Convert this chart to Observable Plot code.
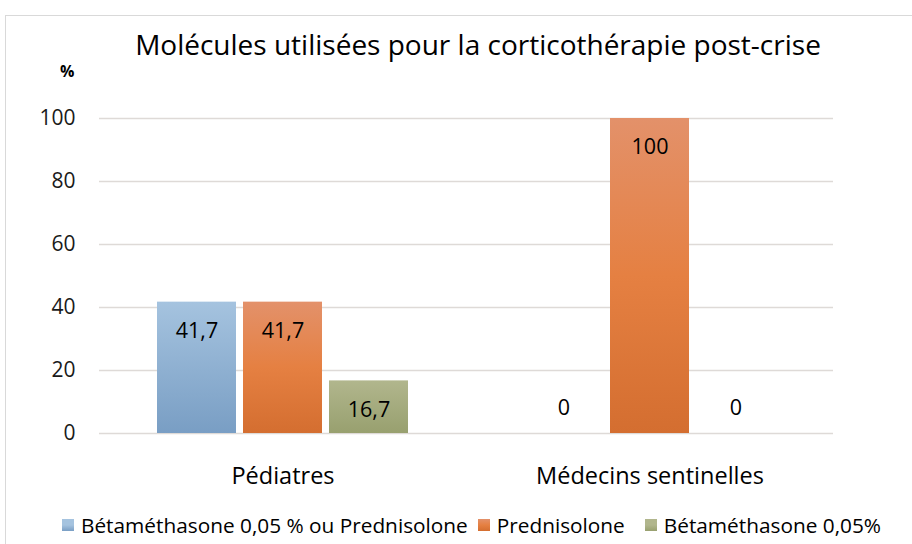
<!DOCTYPE html>
<html>
<head>
<meta charset="utf-8">
<script src="https://cdn.jsdelivr.net/npm/d3@7"></script>
<script src="https://cdn.jsdelivr.net/npm/@observablehq/plot@0.6"></script>
<style>
  html, body { margin: 0; padding: 0; background: #fff; }
  body { width: 912px; height: 544px; position: relative; overflow: hidden; font-family: "Open Sans", "Noto Sans", sans-serif; }
  #frame { position: absolute; left: 5px; top: 15px; width: 930px; height: 560px; border: 1px solid #d9d9d9; box-sizing: border-box; }
  #title { position: absolute; left: 0; width: 956px; top: 25px; text-align: center; font-size: 28px; color: #000; white-space: nowrap; }
  #unit { position: absolute; left: 60px; top: 60px; font-size: 16px; font-weight: bold; color: #000; }
  #chart { position: absolute; left: 0; top: 0; }
  #legend { position: absolute; left: 62px; top: 511px; display: flex; align-items: center; font-size: 20.8px; color: #000; white-space: nowrap; }
  .item { display: flex; align-items: center; margin-right: 10px; }
  .sw { width: 12px; height: 12px; margin-right: 7px; }
</style>
</head>
<body>
<div id="frame"></div>
<div id="title">Molécules utilisées pour la corticothérapie post-crise</div>
<div id="unit">%</div>
<div id="chart"></div>
<div id="legend"></div>
<script>
const groups = ["Pédiatres", "Médecins sentinelles"];
const series = ["Bétaméthasone 0,05 % ou Prednisolone", "Prednisolone", "Bétaméthasone 0,05%"];
const valuesPediatres = [41.7, 41.7, 16.7];
const valuesMedecins = [0, 100, 0];
const yTicks = [0, 20, 40, 60, 80, 100];

const gradients = [
  {id: "gBlue", top: "#a5c3df", bottom: "#799ec4"},
  {id: "gOrange", top: "#e3916a", mid: "#e58042", bottom: "#d46e30"},
  {id: "gGreen", top: "#b1b68d", bottom: "#98a06f"}
];

const data = [];
[valuesPediatres, valuesMedecins].forEach((vals, gi) => {
  vals.forEach((v, si) => data.push({group: groups[gi], series: series[si], value: v}));
});
const fmt = v => String(v).replace(".", ",");

const plot = Plot.plot({
  width: 912,
  height: 500,
  marginLeft: 99,
  marginRight: 79,
  marginTop: 118,
  marginBottom: 67,
  style: {fontFamily: "'Open Sans', 'Noto Sans', sans-serif", fontSize: "19px", color: "#000", background: "transparent", overflow: "visible"},
  fx: {domain: groups, padding: 0, label: null, axis: null},
  x: {domain: series, paddingInner: 0.08, paddingOuter: 0.65, axis: null},
  y: {domain: [0, 100], label: null, axis: null},
  color: {domain: series, range: gradients.map(g => `url(#${g.id})`)},
  marks: [
    Plot.ruleY(yTicks, {stroke: "#dedad7", strokeWidth: 1.5}),
    Plot.barY(data, {fx: "group", x: "series", y: "value", fill: "series"}),
    Plot.text(data.filter(d => d.value > 0), {fx: "group", x: "series", y: "value", text: d => fmt(d.value), dy: 29, fontSize: 21.5, fill: "#000"}),
    Plot.text(data.filter(d => d.value === 0), {fx: "group", x: "series", y: "value", text: d => fmt(d.value), dy: -25, fontSize: 21.5, fill: "#000"}),
    Plot.axisY(yTicks, {tickSize: 0, tickPadding: 24, fontSize: 21, label: null, fill: "#1a1a1a"}),
    Plot.axisFx({anchor: "bottom", tickSize: 0, tickPadding: 34, fontSize: 23.5, label: null})
  ]
});

const defs = d3.select(plot).insert("defs", ":first-child");
gradients.forEach(g => {
  const lg = defs.append("linearGradient").attr("id", g.id).attr("x1", 0).attr("y1", 0).attr("x2", 0).attr("y2", 1);
  lg.append("stop").attr("offset", "0%").attr("stop-color", g.top);
  if (g.mid) lg.append("stop").attr("offset", "50%").attr("stop-color", g.mid);
  lg.append("stop").attr("offset", "100%").attr("stop-color", g.bottom);
});
document.getElementById("chart").appendChild(plot);

const legend = document.getElementById("legend");
series.forEach((s, i) => {
  const g = gradients[i];
  const item = document.createElement("div");
  item.className = "item";
  if (i === 1) item.style.marginRight = "20px";
  const sw = document.createElement("div");
  sw.className = "sw";
  sw.style.background = `linear-gradient(${g.top}, ${g.mid || g.top}, ${g.bottom})`;
  const t = document.createElement("span");
  t.textContent = s;
  item.appendChild(sw);
  item.appendChild(t);
  legend.appendChild(item);
});
</script>
</body>
</html>
